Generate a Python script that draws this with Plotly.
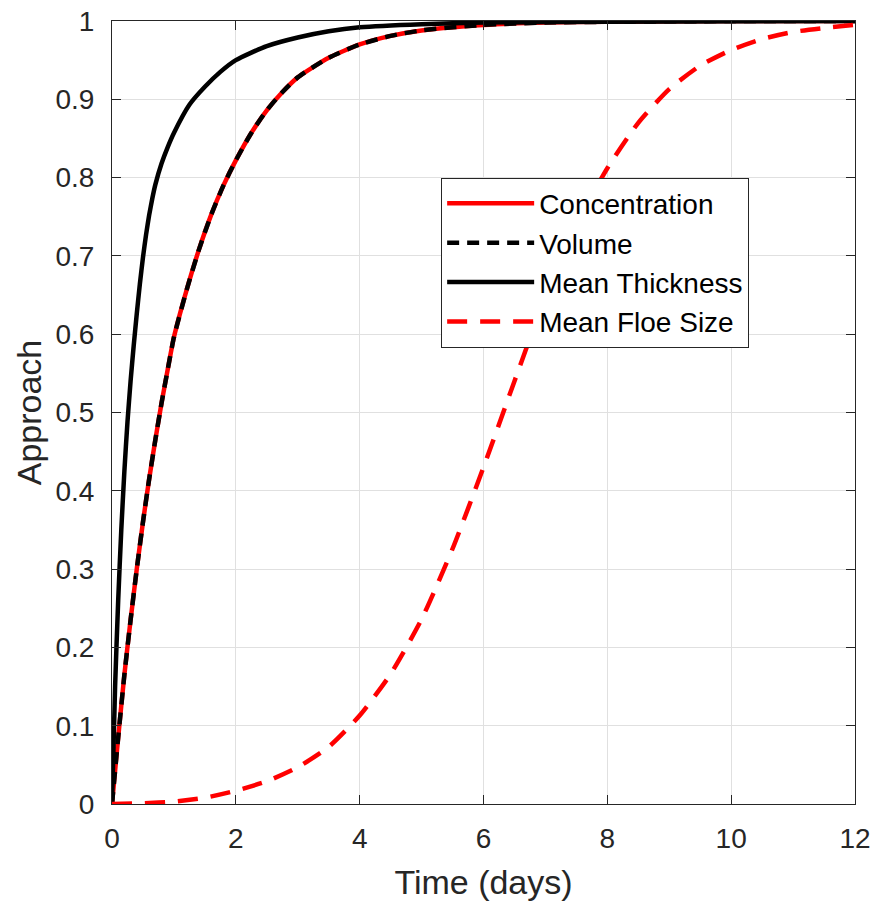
import plotly.graph_objects as go

# ---- data ----
t_conc = [0, 0.1, 0.2, 0.3, 0.4, 0.5, 0.6, 0.7, 0.8, 0.9, 1.0, 1.2, 1.4, 1.6, 1.8, 2.0,
          2.25, 2.5, 2.75, 3.0, 3.5, 4.0, 4.5, 5.0, 6.0, 7.0, 8.0, 10.0, 12.0]
concentration = [0, 0.085, 0.165, 0.235, 0.3, 0.36, 0.415, 0.465, 0.512, 0.555, 0.596, 0.655,
                 0.707, 0.752, 0.79, 0.822, 0.857, 0.886, 0.909, 0.928, 0.953, 0.97, 0.981,
                 0.988, 0.995, 0.998, 0.999, 1.0, 1.0]
volume = [0, 0.085, 0.165, 0.235, 0.3, 0.36, 0.415, 0.465, 0.512, 0.555, 0.596, 0.655,
          0.707, 0.752, 0.79, 0.822, 0.857, 0.886, 0.909, 0.928, 0.953, 0.97, 0.981,
          0.988, 0.995, 0.998, 0.999, 1.0, 1.0]

t_thick = [0, 0.05, 0.1, 0.15, 0.2, 0.25, 0.3, 0.35, 0.4, 0.45, 0.5, 0.55, 0.6, 0.65, 0.7,
           0.8, 0.9, 1.0, 1.25, 1.5, 1.75, 2.0, 2.5, 3.0, 3.5, 4.0, 5.0, 6.0, 8.0, 12.0]
mean_thickness = [0, 0.15, 0.26, 0.35, 0.425, 0.488, 0.54, 0.585, 0.626, 0.664, 0.698, 0.727,
                  0.752, 0.773, 0.791, 0.818, 0.839, 0.857, 0.893, 0.916, 0.935, 0.95, 0.968,
                  0.979, 0.987, 0.992, 0.996, 0.998, 0.999, 1.0]

t_floe = [0, 0.5, 1.0, 1.5, 2.0, 2.5, 3.0, 3.5, 4.0, 4.5, 5.0, 5.5, 6.0, 6.5, 7.0, 7.5,
          8.0, 8.5, 9.0, 9.5, 10.0, 10.5, 11.0, 11.5, 12.0]
mean_floe_size = [0, 0.001, 0.003, 0.008, 0.017, 0.029, 0.047, 0.073, 0.113, 0.166, 0.236,
                  0.326, 0.43, 0.54, 0.648, 0.74, 0.812, 0.87, 0.913, 0.943, 0.963, 0.977,
                  0.986, 0.991, 0.995]

x_ticks = [0, 2, 4, 6, 8, 10, 12]
y_ticks = [0, 0.1, 0.2, 0.3, 0.4, 0.5, 0.6, 0.7, 0.8, 0.9, 1]
y_tick_text = ["0", "0.1", "0.2", "0.3", "0.4", "0.5", "0.6", "0.7", "0.8", "0.9", "1"]

FONT = "Liberation Sans, Arial, Helvetica, sans-serif"
AX = "#262626"
LW = 4.5

fig = go.Figure()
fig.add_trace(go.Scatter(x=t_conc, y=concentration, mode="lines", name="Concentration",
                         line=dict(color="#ff0000", width=LW, shape="spline", smoothing=0.6)))
fig.add_trace(go.Scatter(x=t_conc, y=volume, mode="lines", name="Volume",
                         line=dict(color="#000000", width=LW, dash="12px,8px", shape="spline", smoothing=0.6)))
fig.add_trace(go.Scatter(x=t_thick, y=mean_thickness, mode="lines", name="Mean Thickness",
                         line=dict(color="#000000", width=LW, shape="spline", smoothing=0.6)))
fig.add_trace(go.Scatter(x=t_floe, y=mean_floe_size, mode="lines", name="Mean Floe Size",
                         line=dict(color="#ff0000", width=LW, dash="20px,13px", shape="spline", smoothing=0.6)))

axis_common = dict(
    showline=True, linecolor=AX, linewidth=1, mirror="ticks",
    ticks="inside", ticklen=9, tickwidth=1, tickcolor=AX,
    showgrid=True, gridcolor="#e0e0e0", gridwidth=1,
    zeroline=False, tickfont=dict(family=FONT, size=28, color=AX),
    automargin=False, ticklabeloverflow="allow",
)

fig.update_xaxes(range=[0, 12], tickvals=x_ticks, ticktext=[str(v) for v in x_ticks],
                 title=dict(text="Time (days)", font=dict(family=FONT, size=34, color=AX), standoff=17),
                 ticklabelstandoff=9, **axis_common)
fig.update_yaxes(range=[0, 1], tickvals=y_ticks, ticktext=y_tick_text,
                 title=dict(text="Approach", font=dict(family=FONT, size=34, color=AX), standoff=3),
                 ticklabelstandoff=11, **axis_common)

fig.update_layout(
    width=877, height=903,
    margin=dict(l=112, r=22, t=21, b=99),
    paper_bgcolor="white", plot_bgcolor="white",
    font=dict(family=FONT, color=AX),
    showlegend=True,
    legend=dict(x=0.443, y=0.8, xanchor="left", yanchor="top",
                bgcolor="white", bordercolor=AX, borderwidth=1,
                font=dict(family=FONT, size=28, color="#000000"),
                itemwidth=87, tracegroupgap=0),
)

fig.write_html("out.html", config={"displayModeBar": False},
               post_script="document.body.style.margin='0px';")
